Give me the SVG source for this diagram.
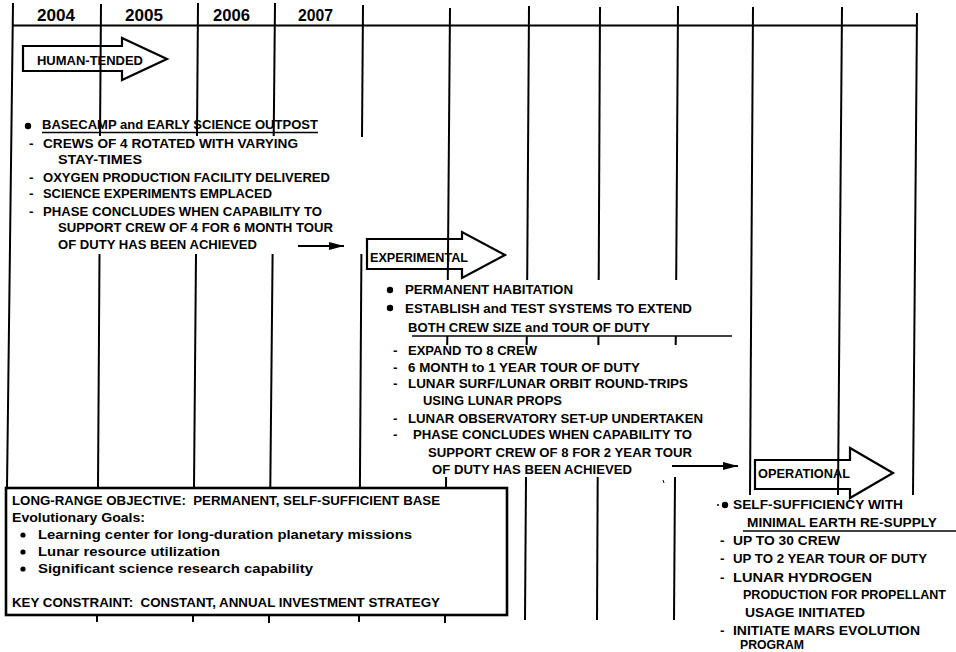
<svg xmlns="http://www.w3.org/2000/svg" width="956" height="652" viewBox="0 0 956 652">
<style>
text{font-family:"Liberation Sans",Arial,sans-serif;font-weight:bold;fill:#000}
.yr{font-size:16px}
.t{font-size:13.5px}
.lb{font-size:13px}
.g line{stroke:#000;stroke-width:2;fill:none}
.ph{fill:none;stroke:#000;stroke-width:2.2;stroke-linejoin:miter}
.ul{stroke:#000;stroke-width:1.6}
.cn{stroke:#000;stroke-width:2;fill:none}
</style>
<defs>
<marker id="ah" markerUnits="userSpaceOnUse" markerWidth="16" markerHeight="8" refX="15" refY="4" orient="auto">
<path d="M0,0 L15,4 L0,8 Z" fill="#000"/>
</marker>
</defs>
<rect width="956" height="652" fill="#fff"/>

<g id="timeline" class="g">
<line x1="13" y1="25.5" x2="917" y2="25.5"/>
<line x1="13" y1="3" x2="7" y2="488"/>
<line x1="101" y1="4" x2="100" y2="136"/>
<line x1="99.5" y1="254" x2="98" y2="488"/>
<line x1="97" y1="615" x2="97" y2="622"/>
<line x1="198" y1="3" x2="197" y2="136"/>
<line x1="196" y1="254" x2="194" y2="488"/>
<line x1="193" y1="615" x2="193" y2="622"/>
<line x1="275" y1="3" x2="273.7" y2="136"/>
<line x1="272.6" y1="254" x2="270.3" y2="488"/>
<line x1="269" y1="615" x2="269" y2="623"/>
<line x1="363" y1="5" x2="362" y2="137"/>
<line x1="361.4" y1="254" x2="359.9" y2="488"/>
<line x1="359" y1="615" x2="359" y2="622"/>
<line x1="450" y1="8" x2="447.8" y2="280"/>
<line x1="447.3" y1="336" x2="447.2" y2="345"/>
<line x1="446.1" y1="477" x2="446" y2="488"/>
<line x1="445" y1="615" x2="445" y2="623"/>
<line x1="529" y1="6" x2="527.2" y2="280"/>
<line x1="526.8" y1="336" x2="526.7" y2="345"/>
<line x1="526" y1="477" x2="525" y2="620"/>
<line x1="600" y1="7" x2="598.7" y2="280"/>
<line x1="598.4" y1="336" x2="598.4" y2="345"/>
<line x1="597.7" y1="477" x2="597" y2="620"/>
<line x1="678" y1="6" x2="676.2" y2="280"/>
<line x1="675.8" y1="336" x2="675.7" y2="345"/>
<line x1="675" y1="477" x2="674" y2="620"/>
<line x1="753" y1="7" x2="750" y2="495"/>
<line x1="842" y1="7" x2="838" y2="495"/>
<line x1="917" y1="13" x2="913" y2="495"/>
<text class="yr" x="37" y="21" textLength="38" lengthAdjust="spacingAndGlyphs">2004</text>
<text class="yr" x="125" y="21" textLength="38" lengthAdjust="spacingAndGlyphs">2005</text>
<text class="yr" x="213" y="21" textLength="37" lengthAdjust="spacingAndGlyphs">2006</text>
<text class="yr" x="298" y="21" textLength="35" lengthAdjust="spacingAndGlyphs">2007</text>
</g>

<g id="phase-human-tended">
<path class="ph" d="M23,46 H122 V38 L167,59 L122,80 V71 H23 Z"/>
<text class="lb" x="37" y="65" textLength="106" lengthAdjust="spacingAndGlyphs">HUMAN-TENDED</text>
</g>

<g id="phase-experimental">
<path class="ph" d="M367,239 H462 V232 L505,255 L462,278 V269 H367 Z"/>
<text class="lb" x="370" y="262" textLength="98" lengthAdjust="spacingAndGlyphs">EXPERIMENTAL</text>
</g>

<g id="phase-operational">
<path class="ph" d="M755,460 H850 V448 L893,473 L850,498 V489 H755 Z"/>
<text class="lb" x="758" y="478" textLength="92" lengthAdjust="spacingAndGlyphs">OPERATIONAL</text>
</g>

<g id="block-basecamp">
<circle cx="28" cy="126" r="3.2"/>
<text class="t" x="42" y="129" textLength="276" lengthAdjust="spacingAndGlyphs">BASECAMP and EARLY SCIENCE OUTPOST</text>
<line class="ul" x1="42" y1="132.5" x2="318" y2="132.5"/>
<text class="t" x="29" y="148">-</text>
<text class="t" x="43" y="148" textLength="255" lengthAdjust="spacingAndGlyphs">CREWS OF 4 ROTATED WITH VARYING</text>
<text class="t" x="58" y="164" textLength="84" lengthAdjust="spacingAndGlyphs">STAY-TIMES</text>
<text class="t" x="29" y="182">-</text>
<text class="t" x="43" y="182" textLength="287" lengthAdjust="spacingAndGlyphs">OXYGEN PRODUCTION FACILITY DELIVERED</text>
<text class="t" x="29" y="198">-</text>
<text class="t" x="43" y="198" textLength="229" lengthAdjust="spacingAndGlyphs">SCIENCE EXPERIMENTS EMPLACED</text>
<text class="t" x="29" y="216">-</text>
<text class="t" x="43" y="216" textLength="279" lengthAdjust="spacingAndGlyphs">PHASE CONCLUDES WHEN CAPABILITY TO</text>
<text class="t" x="58" y="232" textLength="275" lengthAdjust="spacingAndGlyphs">SUPPORT CREW OF 4 FOR 6 MONTH TOUR</text>
<text class="t" x="58" y="249" textLength="199" lengthAdjust="spacingAndGlyphs">OF DUTY HAS BEEN ACHIEVED</text>
</g>

<g id="block-experimental">
<circle cx="390" cy="290" r="3.2"/>
<text class="t" x="405" y="294" textLength="168" lengthAdjust="spacingAndGlyphs">PERMANENT HABITATION</text>
<circle cx="390" cy="308" r="3.2"/>
<text class="t" x="405" y="313" textLength="287" lengthAdjust="spacingAndGlyphs">ESTABLISH and TEST SYSTEMS TO EXTEND</text>
<text class="t" x="408" y="332" textLength="242" lengthAdjust="spacingAndGlyphs">BOTH CREW SIZE and TOUR OF DUTY</text>
<line class="ul" x1="412" y1="336" x2="732" y2="336"/>
<text class="t" x="393" y="355">-</text>
<text class="t" x="408" y="355" textLength="129" lengthAdjust="spacingAndGlyphs">EXPAND TO 8 CREW</text>
<text class="t" x="393" y="372">-</text>
<text class="t" x="408" y="372" textLength="232" lengthAdjust="spacingAndGlyphs">6 MONTH to 1 YEAR TOUR OF DUTY</text>
<text class="t" x="393" y="388">-</text>
<text class="t" x="408" y="388" textLength="280" lengthAdjust="spacingAndGlyphs">LUNAR SURF/LUNAR ORBIT ROUND-TRIPS</text>
<text class="t" x="423" y="405" textLength="139" lengthAdjust="spacingAndGlyphs">USING LUNAR PROPS</text>
<text class="t" x="393" y="423">-</text>
<text class="t" x="408" y="423" textLength="295" lengthAdjust="spacingAndGlyphs">LUNAR OBSERVATORY SET-UP UNDERTAKEN</text>
<text class="t" x="393" y="439">-</text>
<text class="t" x="413" y="439" textLength="279" lengthAdjust="spacingAndGlyphs">PHASE CONCLUDES WHEN CAPABILITY TO</text>
<text class="t" x="428" y="457" textLength="264" lengthAdjust="spacingAndGlyphs">SUPPORT CREW OF 8 FOR 2 YEAR TOUR</text>
<text class="t" x="432" y="474" textLength="200" lengthAdjust="spacingAndGlyphs">OF DUTY HAS BEEN ACHIEVED</text>
<line x1="663" y1="480" x2="664" y2="483" stroke="#000" stroke-width="1"/>
</g>

<g id="block-operational">
<circle cx="718" cy="505" r="1"/>
<circle cx="725" cy="505" r="3.2"/>
<text class="t" x="733" y="509" textLength="170" lengthAdjust="spacingAndGlyphs">SELF-SUFFICIENCY WITH</text>
<text class="t" x="747" y="527" textLength="190" lengthAdjust="spacingAndGlyphs">MINIMAL EARTH RE-SUPPLY</text>
<line class="ul" x1="743" y1="531" x2="956" y2="531"/>
<text class="t" x="720" y="545">-</text>
<text class="t" x="733" y="545" textLength="107" lengthAdjust="spacingAndGlyphs">UP TO 30 CREW</text>
<text class="t" x="720" y="563">-</text>
<text class="t" x="733" y="563" textLength="194" lengthAdjust="spacingAndGlyphs">UP TO 2 YEAR TOUR OF DUTY</text>
<text class="t" x="720" y="582">-</text>
<text class="t" x="733" y="582" textLength="139" lengthAdjust="spacingAndGlyphs">LUNAR HYDROGEN</text>
<text x="743" y="599" style="font-size:12.6px" textLength="203" lengthAdjust="spacingAndGlyphs">PRODUCTION FOR PROPELLANT</text>
<text class="t" x="745" y="617" textLength="120" lengthAdjust="spacingAndGlyphs">USAGE INITIATED</text>
<text class="t" x="720" y="635">-</text>
<text class="t" x="733" y="635" textLength="187" lengthAdjust="spacingAndGlyphs">INITIATE MARS EVOLUTION</text>
<text class="t" x="740" y="649" textLength="64" lengthAdjust="spacingAndGlyphs">PROGRAM</text>
</g>

<g id="objective-box">
<rect x="6" y="488" width="501" height="127" fill="#fff" stroke="#000" stroke-width="2.6"/>
<text class="t" x="12" y="505" xml:space="preserve" textLength="428" lengthAdjust="spacingAndGlyphs">LONG-RANGE OBJECTIVE:  PERMANENT, SELF-SUFFICIENT BASE</text>
<text class="t" x="12" y="522" textLength="133" lengthAdjust="spacingAndGlyphs">Evolutionary Goals:</text>
<circle cx="23" cy="535" r="2.6"/>
<text class="t" x="38" y="539" textLength="374" lengthAdjust="spacingAndGlyphs">Learning center for long-duration planetary missions</text>
<circle cx="23" cy="552" r="2.6"/>
<text class="t" x="38" y="556" textLength="182" lengthAdjust="spacingAndGlyphs">Lunar resource utilization</text>
<circle cx="23" cy="569" r="2.6"/>
<text class="t" x="38" y="573" textLength="275" lengthAdjust="spacingAndGlyphs">Significant science research capability</text>
<text class="t" x="12" y="607" xml:space="preserve" textLength="428" lengthAdjust="spacingAndGlyphs">KEY CONSTRAINT:  CONSTANT, ANNUAL INVESTMENT STRATEGY</text>
</g>

<g id="connectors">
<line class="cn" x1="298" y1="246" x2="344" y2="246" marker-end="url(#ah)"/>
<line class="cn" x1="672" y1="466" x2="738" y2="466" marker-end="url(#ah)"/>
</g>
</svg>
